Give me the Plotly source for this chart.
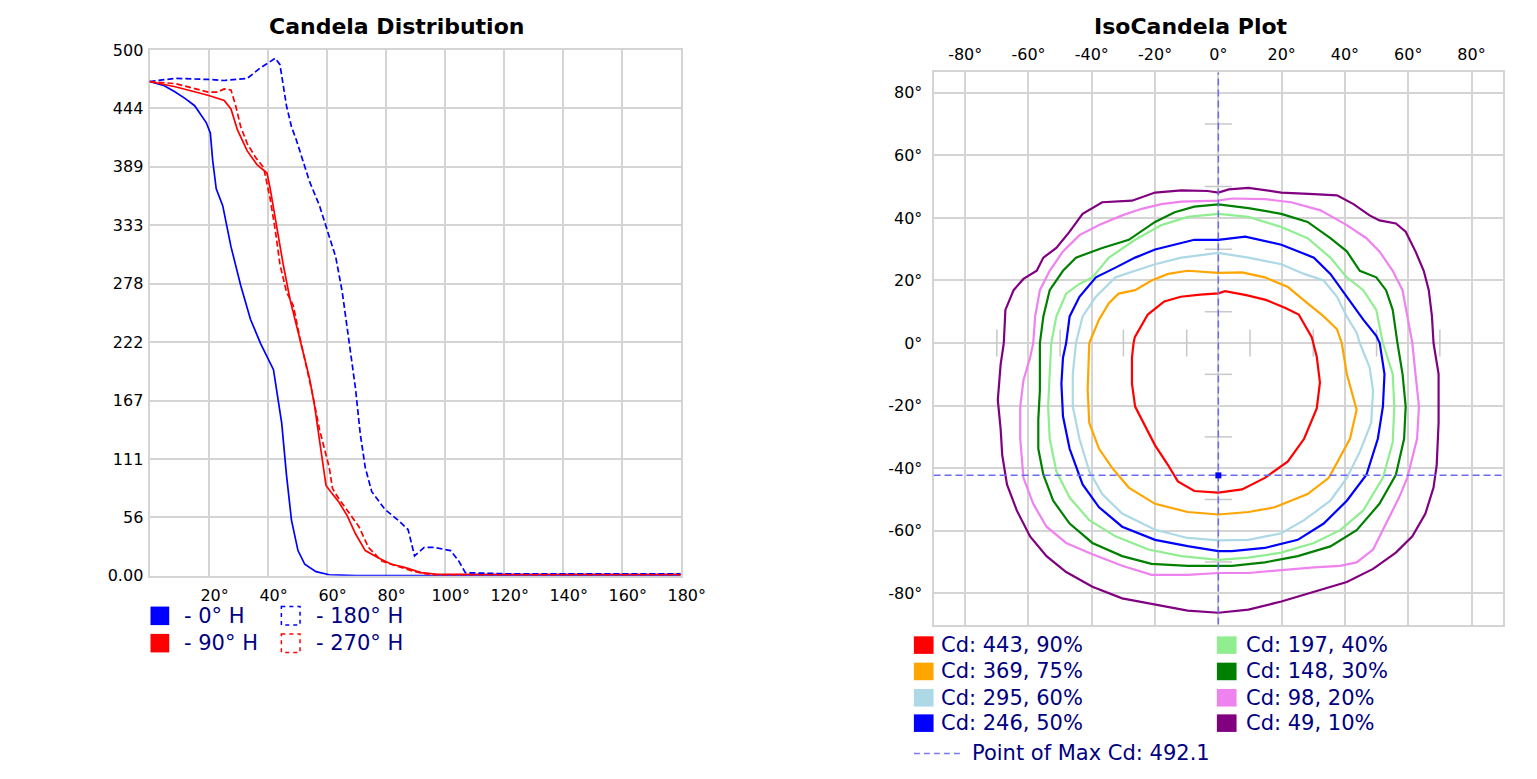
import plotly.graph_objects as go

W, H = 1537, 779
FONT = "DejaVu Sans"
NAVY = "#000080"
GRID = "#d4d4d4"

# ---- Candela Distribution: vertical angle (deg) vs candela, per horizontal plane ----
v_0h = [0, 5, 8.7, 12, 15.3, 19.2, 20.6, 21.4, 22.6, 24.8, 27.6, 30.9, 34.2, 37.6, 42,
        43, 44.8, 46.4, 48.1, 50.3, 52.6, 56.4, 60.9, 70, 180]
cd_0h = [470, 466, 460, 454, 447, 431, 421, 395, 368, 352, 313, 276, 244, 221, 196,
         178, 145, 96, 53, 24, 11, 4, 1, 0.3, 0.3]

v_180h = [0, 8.7, 19.8, 25.3, 33.1, 37.6, 42.6, 44.2, 46.4, 48.1, 49.8, 52, 54.2, 57.6,
          60.3, 63.1, 65.3, 67.6, 69.8, 71.4, 73.1, 75.3, 79.8, 84.2, 87.6, 89.8, 93.1,
          96.4, 102, 104.8, 107, 120, 180]
cd_180h = [470, 473, 472, 471, 473, 483, 492.1, 486, 447, 427, 414, 395, 375, 352,
           329, 303, 270, 224, 178, 135, 103, 80, 63, 53, 44, 19, 27,
           27, 24, 14, 3, 2, 2]

v_90h = [0, 8.7, 19.8, 25.3, 27.6, 29.8, 33.1, 36.4, 39.8, 40.9, 43.1, 45.3, 47.6, 49.8,
         52, 54.2, 55.9, 57.6, 59.8, 61.4, 64.2, 67, 69.8, 73.1, 77.6, 82, 86.4, 92,
         97.6, 110, 180]
cd_90h = [470, 465, 457, 452, 444, 424, 404, 391, 383, 368, 332, 296, 263, 237,
          214, 188, 162, 129, 86, 80, 70, 57, 40, 24, 17, 11, 8, 3,
          1.5, 1.5, 1.5]

v_270h = [0, 8.7, 19.8, 23.1, 25.3, 27.6, 29.2, 30.9, 33.1, 35.9, 38.7, 40.9, 42.6, 44.2,
          46.4, 48.7, 50.9, 53.1, 55.3, 57.6, 59.2, 60.9, 62, 64.2, 67.6, 70.9, 74.2,
          78.7, 84.2, 89.8, 95.3, 110, 180]
cd_270h = [470, 468, 460, 460, 463, 462, 447, 427, 411, 398, 388, 358, 329, 296,
           270, 257, 227, 201, 172, 139, 122, 103, 83, 73, 60, 47, 27,
           14, 9, 4, 1, 1, 1]

cd_ticks = [0, 500 / 9, 1000 / 9, 500 / 3, 2000 / 9, 2500 / 9, 1000 / 3, 3500 / 9, 4000 / 9, 500]
cd_tick_text = ["0.00", "56", "111", "167", "222", "278", "333", "389", "444", "500"]
vert_ticks = [20, 40, 60, 80, 100, 120, 140, 160, 180]

planes = ["0° H", "90° H", "180° H", "270° H"]
plane_colors = ["#0000ff", "#ff0000", "#0000ff", "#ff0000"]

# ---- IsoCandela plot: (horizontal deg, vertical deg) outlines per level ----
iso_cd = [443, 369, 295, 246, 197, 148, 98, 49]
iso_pct = [90, 75, 60, 50, 40, 30, 20, 10]
iso_colors = ["#ff0000", "#ffa500", "#add8e6", "#0000ff",
              "#90ee90", "#008000", "#ee82ee", "#800080"]
max_cd = 492.1
max_h, max_v = 0, -42.3

iso_90 = [(-26.8, 0), (-26.4, 1.9), (-22.3, 9.1), (-17.1, 13.3), (-11.9, 14.8), (-5.7, 15.5),
          (0, 15.9), (2.1, 16.6), (8.8, 15.3), (15, 13.8), (21.2, 11.2), (25.4, 9.1),
          (29.5, 1.9), (31.1, -4.4), (32.1, -12.6), (31.1, -20.9), (27.1, -30.6),
          (21.9, -37.9), (14.7, -43.1), (7.5, -46.8), (0, -47.8), (-7.6, -47.3),
          (-12.8, -44.2), (-15.9, -39), (-20, -32.7), (-23.2, -26.5), (-26.3, -20.3),
          (-27.3, -13), (-27.3, -4.7), (-26.8, 0)]
iso_75 = [(-40.8, 0), (-37.7, 7.5), (-34.6, 12.7), (-31.5, 15.8), (-26.3, 16.9), (-21.1, 20),
          (-15.9, 22.1), (-9.7, 23.1), (0, 22.4), (7.5, 22.6), (14.7, 21), (22, 17.9),
          (28.2, 12.7), (33.3, 8.5), (37.5, 4.4), (39, 0), (40.6, -9.9), (43.7, -21.3),
          (41.6, -30.6), (34.9, -43.1), (28.2, -48.3), (17.8, -52.5), (9.5, -54),
          (0, -54.8), (-9.7, -54), (-20, -51.4), (-28.3, -46.2), (-33.5, -40),
          (-37.7, -33.8), (-40.8, -25.5), (-41.3, -15.1), (-40.8, -4.7), (-40.8, 0)]
iso_60 = [(-45, 0), (-42.9, 8.5), (-38.7, 14.8), (-32.5, 21), (-26.3, 23.1), (-20, 25.2),
          (-11.7, 27.3), (-4.5, 28.3), (0, 28.8), (9.5, 27.3), (19.9, 25.2), (27.1, 22.1),
          (33.3, 20), (37.5, 14.8), (40.6, 8.5), (43.7, 3.3), (44.7, 0), (47.8, -7.8),
          (48.9, -15.1), (48.3, -25.5), (44.7, -34.8), (40.6, -43.1), (35.4, -50.4),
          (27.1, -56.6), (19.9, -60.8), (9.5, -62.9), (0, -63.1), (-9.7, -62.3),
          (-20, -59.7), (-30.4, -54.5), (-36.7, -48.3), (-40.8, -41), (-43.9, -30.6),
          (-46, -20.3), (-46, -9.9), (-45, 0)]
iso_50 = [(-48.1, 0), (-47, 8.5), (-43.9, 14.8), (-38.7, 21), (-32.5, 24.1), (-26.3, 27.3),
          (-20, 29.9), (-13.8, 31.4), (-7.6, 33), (0, 33), (8.5, 34), (19.9, 31.4),
          (30.2, 27.3), (35.4, 22.1), (40.6, 14.8), (45.8, 7.5), (49.9, 2.3), (51, 0),
          (52.5, -9.9), (52, -20.3), (50.4, -30.6), (46.8, -42.1), (40.6, -50.4),
          (33.3, -57.7), (25.1, -62.9), (14.7, -65.5), (4.3, -66.5), (0, -66.5),
          (-9.7, -64.9), (-20, -62.9), (-30.4, -58.7), (-37.7, -52.5), (-42.9, -45.2),
          (-47, -33.8), (-49.1, -23.4), (-49.6, -13), (-49.1, -4.7), (-48.1, 0)]
iso_40 = [(-52.8, 0), (-51.2, 8.5), (-48.1, 15.8), (-43.9, 18.9), (-39.8, 21), (-34.6, 27.3),
          (-26.3, 33), (-18, 37.7), (-9.7, 40.3), (0, 41.3), (9.5, 40.3), (19.9, 37.1),
          (28.2, 33.5), (35.4, 27.3), (40.6, 21), (45.8, 16.9), (49.9, 10.6), (52, 0),
          (55.1, -9.9), (55.6, -20.3), (55.1, -31.7), (52, -43.1), (45.8, -53.5),
          (38.5, -59.8), (30.2, -63.9), (19.9, -67), (9.5, -68.6), (0, -69.3),
          (-11.7, -68.1), (-22.1, -66), (-32.5, -61.8), (-40.8, -56.6), (-47, -49.4),
          (-51.2, -41), (-53.3, -30.6), (-53.8, -20.3), (-53.3, -9.9), (-52.8, 0)]
iso_30 = [(-56.4, 0), (-55.3, 8.5), (-53.3, 16.9), (-49.1, 23.1), (-45, 27.3), (-36.7, 30.4),
          (-28.3, 33), (-20, 38.7), (-13.8, 41.8), (-7.6, 43.6), (0, 44.3), (9.5, 43.1),
          (19.9, 41.3), (28.2, 38.7), (35.4, 33.5), (40.6, 29.3), (44.7, 23.1), (49.9, 21),
          (53, 16.9), (55.1, 10.6), (56.6, 0), (58.2, -9.9), (59.2, -20.3), (58.7, -30.6),
          (56.1, -42.1), (50.9, -51.4), (43.7, -59.8), (35.4, -65), (25.1, -68.1),
          (14.7, -70.1), (4.3, -71.2), (0, -71.2), (-9.7, -71.2), (-21.1, -70.6),
          (-30.4, -68.1), (-39.8, -63.9), (-47, -57.7), (-52.2, -50.4), (-55.3, -42.1),
          (-56.9, -33.8), (-56.9, -24.4), (-56.4, -15.1), (-56.4, -4.7), (-56.4, 0)]
iso_20 = [(-58.5, 0), (-57.9, 8.5), (-56.4, 16.9), (-53.3, 23.1), (-49.1, 29.3), (-43.9, 34.5),
          (-37.7, 37.7), (-30.4, 40.8), (-24.2, 42.9), (-18, 44.4), (-11.7, 45.2), (0, 45.5),
          (4.3, 46.2), (14.7, 46), (23, 45), (32.3, 42.4), (40.6, 37.7), (46.8, 33.5),
          (50.9, 29.3), (55.1, 23.1), (58.2, 16.9), (59.7, 8.5), (61.3, 0), (62.3, -9.9),
          (63.4, -20.3), (62.8, -30.6), (59.7, -43.1), (57.1, -49.4), (53, -57.7),
          (48.9, -66), (43.7, -70.1), (38.5, -71.2), (30.2, -71.7), (19.9, -72.7),
          (9.5, -73.5), (0, -73.5), (-9.7, -74.1), (-21.1, -74.1), (-30.4, -71.2),
          (-39.8, -67.5), (-48.1, -63.9), (-54.3, -58.7), (-58.5, -51.4), (-61.6, -43.1),
          (-62.6, -30.6), (-62.6, -20.3), (-61.6, -11.9), (-59.5, -4.7), (-58.5, 0)]
iso_10 = [(-67.8, 0), (-67.3, 10.6), (-64.7, 16.9), (-61.6, 20.5), (-57.4, 23.1), (-55.3, 27.3),
          (-51.2, 30.4), (-47, 35.6), (-42.9, 41.3), (-36.7, 45), (-27.3, 45.5), (-20, 48.1),
          (-11.7, 48.8), (-3.4, 48.6), (0, 48.1), (3.3, 49.1), (9.5, 49.6), (14.7, 48.8),
          (19.9, 48.1), (30.2, 47.6), (37.5, 47.2), (42.7, 44.4), (47.8, 40.8), (50.9, 39.2),
          (56.1, 38.2), (59.2, 35.6), (62.3, 29.3), (64.9, 23.1), (66.5, 16.9), (67.5, 8.5),
          (68, 0), (69.6, -9.9), (69.6, -25.5), (69, -39), (68, -46.2), (65.4, -54.6),
          (61.3, -61.8), (56.1, -67), (48.9, -72.2), (40.6, -76.4), (30.2, -79.5),
          (19.9, -82.6), (9.5, -85.2), (0, -86.2), (-9.7, -85.5), (-20, -83.6),
          (-30.4, -81.6), (-39.8, -77.9), (-48.1, -73.2), (-54.3, -68.1), (-59.5, -61.8),
          (-63.7, -53.5), (-66.8, -45.2), (-68.3, -35.8), (-68.8, -27.5), (-69.7, -18.2),
          (-68.8, -6.8), (-67.8, 0)]
iso_outlines = [iso_90, iso_75, iso_60, iso_50, iso_40, iso_30, iso_20, iso_10]

iso_ticks = [-80, -60, -40, -20, 0, 20, 40, 60, 80]
ref_marks = [10, 30, 50, 70]   # small reference ticks along the centre axes
ref_half = 4.3


def px(x):
    return x / W


def py(y):
    return 1 - y / H


fig = go.Figure()

# Candela distribution curves
curve_data = [(v_0h, cd_0h, "solid"), (v_90h, cd_90h, "solid"),
              (v_180h, cd_180h, "6px,3px"), (v_270h, cd_270h, "6px,3px")]
for (v, cd, dash), name, col in zip(curve_data, planes, plane_colors):
    fig.add_trace(go.Scatter(x=v, y=cd, mode="lines", name=name,
                             line=dict(color=col, width=1.7, dash=dash),
                             xaxis="x", yaxis="y", showlegend=False))

# Reference ticks on the iso plot
rx, ry = [], []
for a in ref_marks:
    for s in (-1, 1):
        rx += [-ref_half, ref_half, None]
        ry += [s * a, s * a, None]
        rx += [s * a, s * a, None]
        ry += [-ref_half, ref_half, None]
fig.add_trace(go.Scatter(x=rx, y=ry, mode="lines", line=dict(color="#c8c8c8", width=1.5),
                         xaxis="x2", yaxis="y2", showlegend=False, hoverinfo="skip"))

# Iso-candela outlines, outermost first
for pts, col, cd in list(zip(iso_outlines, iso_colors, iso_cd))[::-1]:
    fig.add_trace(go.Scatter(x=[p[0] for p in pts], y=[p[1] for p in pts], mode="lines",
                             name=f"Cd: {cd}", line=dict(color=col, width=2.2),
                             xaxis="x2", yaxis="y2", showlegend=False))

# Point of max candela crosshair
cross = dict(color="#6a6af2", width=1.5, dash="7px,4px")
fig.add_trace(go.Scatter(x=[max_h, max_h], y=[-90, 86.5], mode="lines", line=cross,
                         xaxis="x2", yaxis="y2", showlegend=False))
fig.add_trace(go.Scatter(x=[-90, 90], y=[max_v, max_v], mode="lines", line=cross,
                         xaxis="x2", yaxis="y2", showlegend=False))
fig.add_trace(go.Scatter(x=[max_h], y=[max_v], mode="markers",
                         marker=dict(symbol="square", size=6, color="#0000ff"),
                         xaxis="x2", yaxis="y2", showlegend=False))

axis_common = dict(showgrid=True, gridcolor=GRID, gridwidth=2, showline=True,
                   linecolor=GRID, linewidth=2, mirror=True, zeroline=False,
                   ticks="", tickfont=dict(family=FONT, size=16, color="#000000"),
                   fixedrange=True, layer="below traces")

shapes = []
annotations = []

# Titles
annotations.append(dict(text="<b>Candela Distribution</b>", x=px(403), y=py(18),
                        xref="paper", yref="paper", showarrow=False,
                        xanchor="center", yanchor="middle",
                        font=dict(family=FONT, size=22, color="#000000")))
annotations.append(dict(text="<b>IsoCandela Plot</b>", x=px(1211), y=py(18),
                        xref="paper", yref="paper", showarrow=False,
                        xanchor="center", yanchor="middle",
                        font=dict(family=FONT, size=22, color="#000000")))

# Left legend (2 x 2)
leg_cols = [153, 286]
leg_text_x = [185, 319]
leg_rows = [622, 650]
for i, (name, col) in enumerate(zip(planes, plane_colors)):
    c, r = i // 2, i % 2
    x0, yc = leg_cols[c], leg_rows[r]
    if c == 0:
        shapes.append(dict(type="rect", xref="paper", yref="paper",
                           x0=px(x0), x1=px(x0 + 19), y0=py(yc - 9.5), y1=py(yc + 9.5),
                           fillcolor=col, line=dict(width=0)))
    else:
        shapes.append(dict(type="rect", xref="paper", yref="paper",
                           x0=px(x0), x1=px(x0 + 19), y0=py(yc - 9.5), y1=py(yc + 9.5),
                           fillcolor="rgba(0,0,0,0)", line=dict(color=col, width=1.5, dash="4px,4px")))
    annotations.append(dict(text=f"- {name}", x=px(leg_text_x[c]), y=py(yc),
                            xref="paper", yref="paper", showarrow=False,
                            xanchor="left", yanchor="middle",
                            font=dict(family=FONT, size=21, color=NAVY)))

# Right legend (4 rows x 2 columns)
iso_leg_x = [929, 1237]
iso_leg_tx = [955, 1265]
iso_leg_rows = [652, 679, 706, 732]
for i, (cd, pct, col) in enumerate(zip(iso_cd, iso_pct, iso_colors)):
    c, r = i // 4, i % 4
    x0, yc = iso_leg_x[c], iso_leg_rows[r]
    shapes.append(dict(type="rect", xref="paper", yref="paper",
                       x0=px(x0), x1=px(x0 + 20), y0=py(yc - 9), y1=py(yc + 9),
                       fillcolor=col, line=dict(width=0)))
    annotations.append(dict(text=f"Cd: {cd}, {pct}%", x=px(iso_leg_tx[c]), y=py(yc),
                            xref="paper", yref="paper", showarrow=False,
                            xanchor="left", yanchor="middle",
                            font=dict(family=FONT, size=21, color=NAVY)))
shapes.append(dict(type="line", xref="paper", yref="paper",
                   x0=px(929), x1=px(977), y0=py(763), y1=py(763),
                   line=dict(color="#7a7af5", width=1.5, dash="6px,4px")))
annotations.append(dict(text=f"Point of Max Cd: {max_cd}", x=px(986), y=py(763),
                        xref="paper", yref="paper", showarrow=False,
                        xanchor="left", yanchor="middle",
                        font=dict(family=FONT, size=21, color=NAVY)))

fig.update_layout(
    width=W, height=H,
    margin=dict(l=0, r=0, t=0, b=0),
    paper_bgcolor="#ffffff", plot_bgcolor="#ffffff",
    showlegend=False,
    xaxis=dict(axis_common, domain=[px(152), px(692)], range=[0, 180], anchor="y",
               tickvals=vert_ticks, ticktext=[f"{v}°" for v in vert_ticks],
               ticklabelshift=6, ticklabelstandoff=4),
    yaxis=dict(axis_common, domain=[py(581), py(42)], range=[0, 500], anchor="x",
               tickvals=cd_ticks, ticktext=cd_tick_text, ticklabelstandoff=1),
    xaxis2=dict(axis_common, domain=[px(949), px(1528)], range=[-90, 90], anchor="y2",
                side="top", tickvals=iso_ticks, ticktext=[f"{v}°" for v in iso_ticks],
                ticklabelstandoff=4),
    yaxis2=dict(axis_common, domain=[py(631), py(65)], range=[-90, 86.5], anchor="x2",
                tickvals=iso_ticks, ticktext=[f"{v}°" for v in iso_ticks],
                ticklabelstandoff=6),
    shapes=shapes,
    annotations=annotations,
)

fig.write_html("out.html")
